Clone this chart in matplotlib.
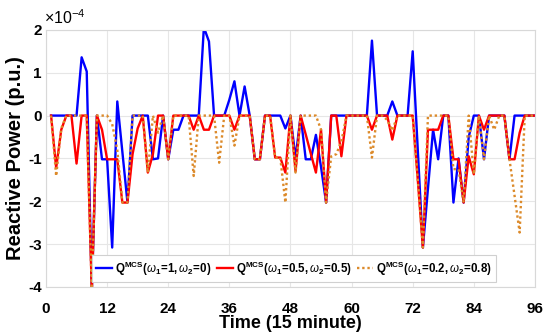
import matplotlib
matplotlib.use("Agg")
import matplotlib.pyplot as plt
import numpy as np

plt.rcParams['font.family'] = ['Liberation Sans', 'DejaVu Sans']
plt.rcParams['mathtext.fontset'] = 'custom'
plt.rcParams['mathtext.rm'] = 'Liberation Sans'
plt.rcParams['mathtext.bf'] = 'Liberation Sans:bold'
plt.rcParams['mathtext.it'] = 'Liberation Sans:italic'

time = np.arange(1, 97)

q_w1_1 = [0, 0, 0, 0, 0, 0, 1.36, 1.03, -4.1, 0, -1.02, -1.02, -3.08, 0.33, -0.85, -2.03,
          0, 0, 0, 0, -1.02, -1.0, 0, -1.02, -0.33, -0.33, 0, 0, 0, 0, 2.06, 1.73,
          0, 0, 0, 0.37, 0.8, 0, 0.68, 0, -1.02, -1.02, 0, 0, 0, 0, -0.3, 0,
          -1.0, 0, -1.02, -1.02, -0.45, -1.2, -2.03, 0, 0, 0, 0, 0, 0, 0, 0, 1.75,
          0, 0, 0, 0.33, 0, 0, 0, 1.5, -0.8, -3.08, -1.7, -0.33, -1.02, 0, 0, -2.03,
          -1.0, -2.03, -0.5, 0, 0, -1.02, 0, 0, 0, 0, -1.02, 0, 0, 0, 0, 0]

q_w05 = [0, -1.22, -0.33, 0, 0, -1.12, 0, 0, -4.1, 0, -0.33, -1.02, -1.02, -1.02, -2.03, -2.03,
         -0.9, -0.3, 0, -1.33, -0.9, 0, 0, -1.02, 0, 0, 0, 0, -0.33, 0, -0.33, -0.33,
         0, 0, 0, 0, -0.33, 0, 0, 0, -1.02, -1.02, 0, 0, -0.98, -0.98, -1.33, 0,
         -1.3, 0, -0.44, -0.89, -1.33, -0.33, -2.03, 0, 0, -0.95, 0, 0, 0, 0, 0, -0.33,
         0, 0, 0, -0.56, 0, 0, 0, 0, -1.5, -3.08, -0.33, -0.33, -0.33, 0, 0, -1.02,
         -1.02, -2.03, -0.95, -1.37, 0, -0.33, 0, 0, 0, 0, -1.02, -1.02, -0.4, 0, 0, 0]

q_w02 = [0, -1.41, -0.3, 0, 0, 0, 0, 0, -4.1, 0, 0, 0, -0.2, -0.8, -2.03, -2.03,
         0, 0, 0, -1.33, 0, -0.4, 0, -1.02, 0, 0, 0, 0, -1.41, 0, 0, 0,
         0, -1.1, 0, 0, -0.7, 0, 0, 0, -1.02, -1.02, 0, 0, -0.98, -0.98, -2.03, 0,
         -1.33, 0, 0, 0, 0, -0.33, -2.03, -0.95, -0.9, -0.6, 0, 0, 0, 0, 0, -0.98,
         0, 0, -0.1, -0.35, 0, 0, 0, 0, -1.5, -3.08, 0, 0, 0, 0, 0, -1.25,
         -1.25, -2.03, 0, -1.37, 0, -1.02, 0, -0.33, 0, 0, -1.02, -1.87, -2.73, 0, 0, 0]

labels = [r'$\mathbf{Q^{MCS}(}\omega_{\mathbf{1}}\!\mathbf{=}\!\mathbf{1,}\omega_{\mathbf{2}}\!\mathbf{=}\!\mathbf{0)}$',
          r'$\mathbf{Q^{MCS}(}\omega_{\mathbf{1}}\!\mathbf{=}\!\mathbf{0.5,}\omega_{\mathbf{2}}\!\mathbf{=}\!\mathbf{0.5)}$',
          r'$\mathbf{Q^{MCS}(}\omega_{\mathbf{1}}\!\mathbf{=}\!\mathbf{0.2,}\omega_{\mathbf{2}}\!\mathbf{=}\!\mathbf{0.8)}$']

xticks = [0, 12, 24, 36, 48, 60, 72, 84, 96]
yticks = [2, 1, 0, -1, -2, -3, -4]

fig = plt.figure(figsize=(5.5, 3.36), dpi=100)
ax = fig.add_axes([0.0836, 0.146, 0.889, 0.765])

ax.plot(time, q_w1_1, color='#0000ff', lw=1.7, label=labels[0])
ax.plot(time, q_w05, color='#ff0000', lw=1.7, label=labels[1])
ax.plot(time, q_w02, color='#dc8a2a', lw=1.7, ls=(0, (1, 1.2)), label=labels[2])

ax.set_xlim(0, 96)
ax.set_ylim(-4, 2)
ax.set_xticks(xticks)
ax.set_yticks(yticks)
ax.set_xticklabels([str(v) for v in xticks], fontweight='bold', fontsize=11)
ax.set_yticklabels([str(v) for v in yticks], fontweight='bold', fontsize=11)
ax.tick_params(axis='x', length=0, pad=11)
ax.tick_params(axis='y', length=0, pad=3)
ax.grid(True, color='#e6e6e6', lw=0.8)
ax.set_axisbelow(True)
for s in ax.spines.values():
    s.set_color('#d8d8d8')
    s.set_linewidth(0.8)

ax.set_xlabel('Time (15 minute)', fontweight='bold', fontsize=13, labelpad=-1)
ax.set_ylabel('Reactive Power (p.u.)', fontweight='bold', fontsize=14.5, labelpad=2)
ax.text(-0.005, 1.012, r'$\times10^{-4}$', transform=ax.transAxes, fontsize=11.5,
        ha='left', va='bottom')

leg = ax.legend(loc='lower center', bbox_to_anchor=(0.507, 0.012), ncol=3, fontsize=8.3,
                handlelength=1.4, handletextpad=0.3, columnspacing=0.4,
                borderpad=0.35, borderaxespad=0.2, frameon=True, fancybox=False,
                edgecolor='#d0d0d0', framealpha=1)
leg.get_frame().set_linewidth(0.8)

fig.savefig('out.png', dpi=100)
